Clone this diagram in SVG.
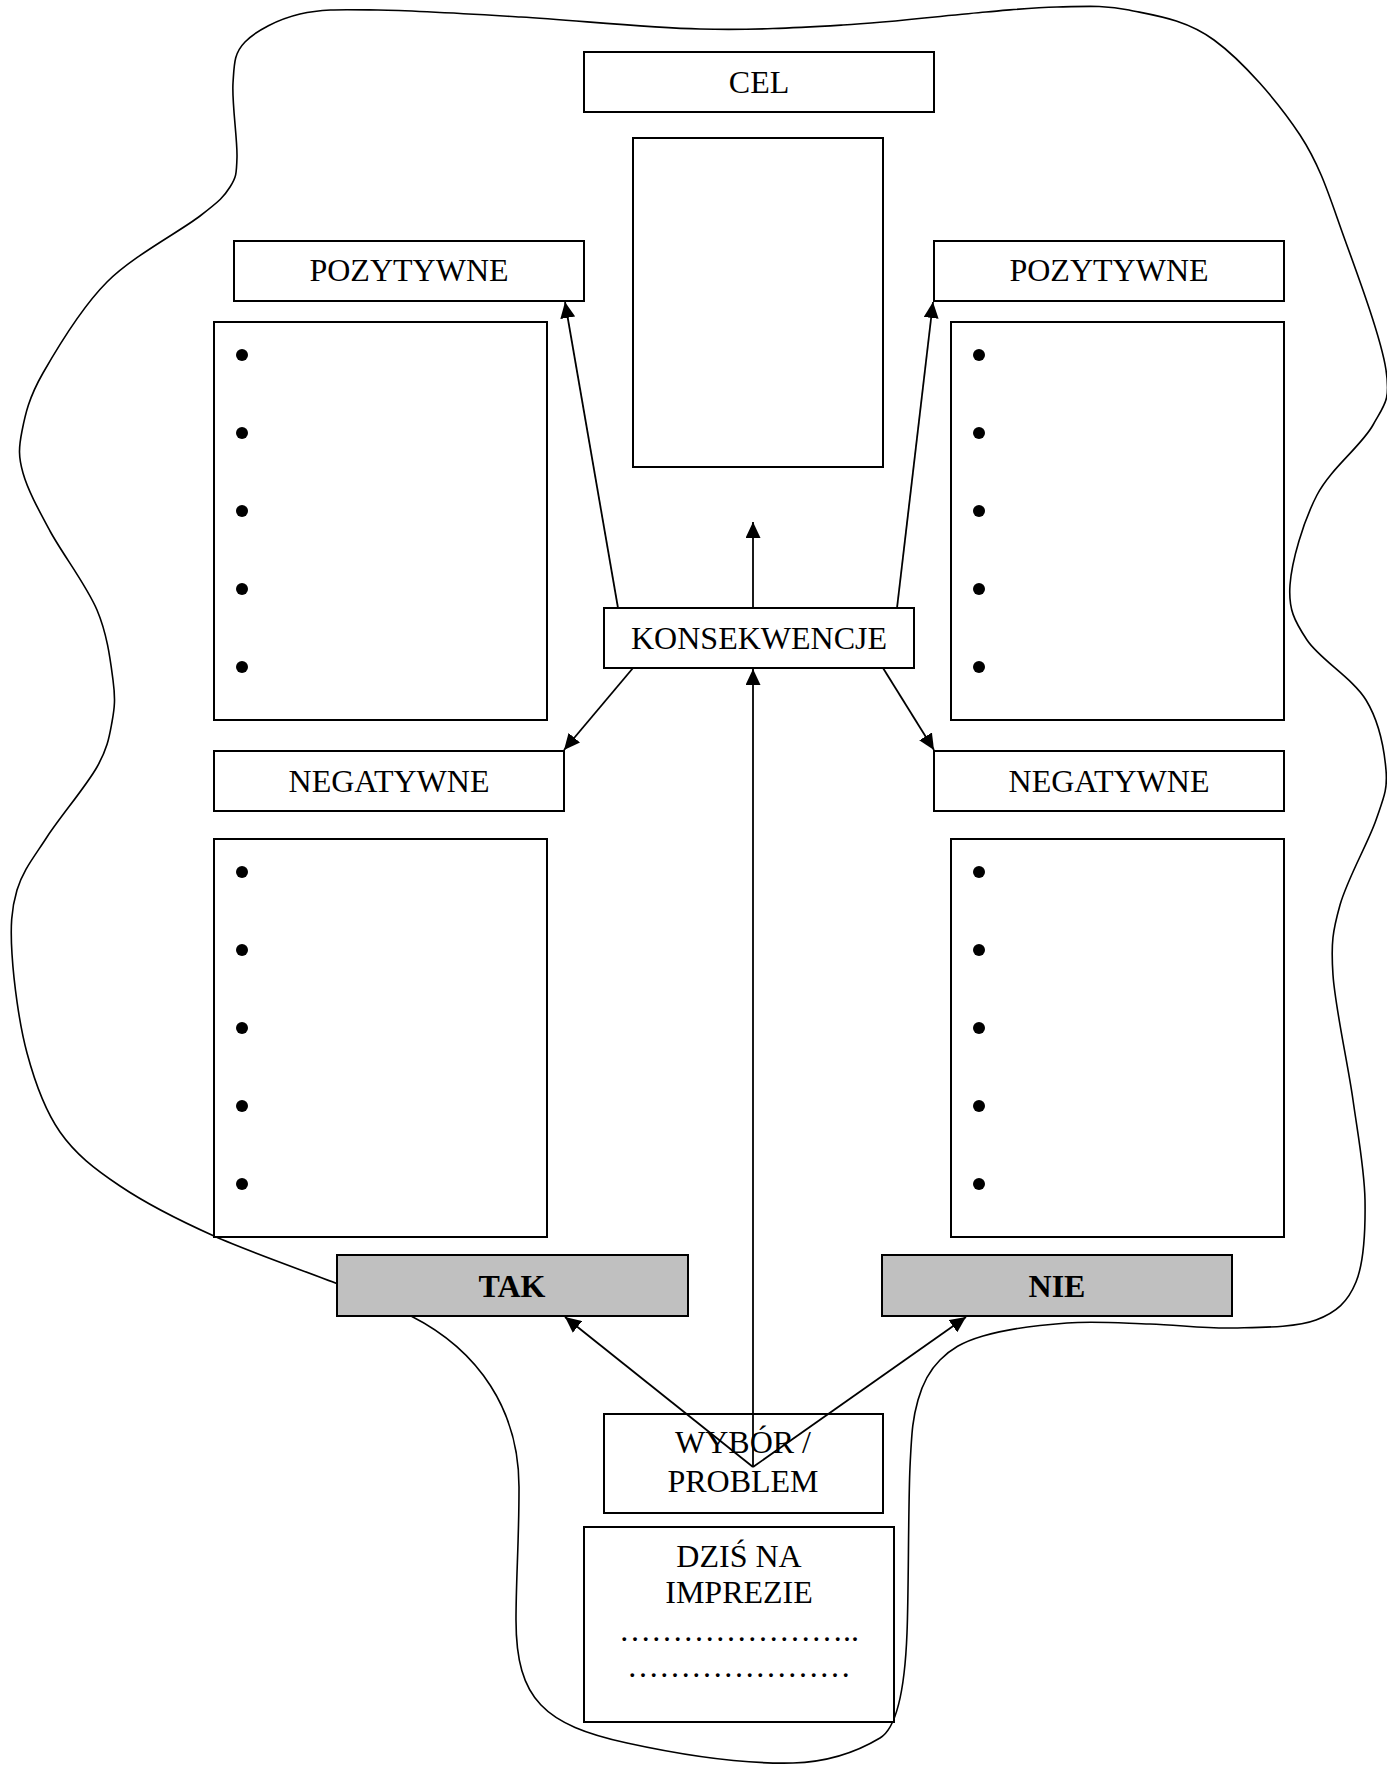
<svg xmlns="http://www.w3.org/2000/svg" width="1387" height="1766" viewBox="0 0 1387 1766">
  <style>
    .box { fill: #ffffff; stroke: #000000; stroke-width: 2; }
    .choice { fill: #c0c0c0; stroke: #000000; stroke-width: 2; }
    .lbl { font-family: "Liberation Serif", "Times New Roman", serif; font-size: 32px; fill: #000000; text-anchor: middle; }
    .bold { font-weight: bold; }
    .blob { fill: none; stroke: #000000; stroke-width: 1.6; }
    .conn { fill: none; stroke: #000000; stroke-width: 1.8; }
    .dot { fill: #000000; }
  </style>
  <defs>
    <marker id="arrow" markerUnits="userSpaceOnUse" markerWidth="16" markerHeight="15" refX="16" refY="7.5" orient="auto">
      <path d="M0,0 L16,7.5 L0,15 Z" fill="#000000"/>
    </marker>
  </defs>

  <rect width="1387" height="1766" fill="#ffffff"/>

  <!-- free-form outline around the whole decision map -->
  <path id="outline" class="blob" d="M378,10
    C414.8,10.5 467.3,13.8 521,17
    C574.7,20.2 646.3,27.7 700,29
    C753.7,30.3 795.3,27.8 843,25
    C890.7,22.2 950.3,15 986,12
    C1021.7,9 1033.2,7.3 1057,7
    C1080.8,6.7 1102.8,4.5 1129,10
    C1155.2,15.5 1185.5,19.2 1214,40
    C1242.5,60.8 1278.2,101.7 1300,135
    C1321.8,168.3 1330.7,200.8 1345,240
    C1359.3,279.2 1381.3,339.2 1386,370
    C1390.7,400.8 1384.5,404.2 1373,425
    C1361.5,445.8 1330.8,468.3 1317,495
    C1303.2,521.7 1291.7,560.8 1290,585
    C1288.3,609.2 1294.3,620.8 1307,640
    C1319.7,659.2 1352.8,678.3 1366,700
    C1379.2,721.7 1384.3,750 1386,770
    C1387.7,790 1383.7,797.5 1376,820
    C1368.3,842.5 1347.2,879.2 1340,905
    C1332.8,930.8 1330.8,942.5 1333,975
    C1335.2,1007.5 1347.7,1062.5 1353,1100
    C1358.3,1137.5 1364.5,1169.7 1365,1200
    C1365.5,1230.3 1364.2,1262 1356,1282
    C1347.8,1302 1336.5,1312.3 1316,1320
    C1295.5,1327.7 1260.7,1327.3 1233,1328
    C1205.3,1328.7 1177.7,1324.8 1150,1324
    C1122.3,1323.2 1094.8,1321 1067,1323
    C1039.2,1325 1004.2,1329.8 983,1336
    C961.8,1342.2 950.8,1349.3 940,1360
    C929.2,1370.7 923,1382.2 918,1400
    C913,1417.8 911.8,1428.2 910,1467
    C908.2,1505.8 908.7,1593.3 907,1633
    C905.5,1672 900,1726 880,1738
    C860,1750 830,1762 793,1763
    C750,1764 700,1759 627,1743
    C545,1725 516,1700 516,1620
    C516,1580 519,1540 519,1490
    C520,1410 478,1350 411,1316
    C380,1300 360,1293 338,1284
    C311.2,1273.3 250.3,1252.3 214,1236
    C177.7,1219.7 145.7,1203.3 120,1186
    C94.3,1168.7 75.5,1154.2 60,1132
    C44.5,1109.8 35,1082.7 27,1053
    C19,1023.3 13.7,981.2 12,954
    C10.3,926.8 11.2,909.5 17,890
    C22.8,870.5 33.7,857.5 47,837
    C60.3,816.5 86.2,786.2 97,767
    C107.8,747.8 109.3,736.5 112,722
    C114.7,707.5 115.5,698.7 113,680
    C110.5,661.3 107.5,634.8 97,610
    C86.5,585.2 62.3,553.8 50,531
    C37.7,508.2 27.7,489.7 23,473
    C18.3,456.3 18.7,447.7 22,431
    C25.3,414.3 28.8,397.8 43,373
    C57.2,348.2 80.8,308.2 107,282
    C133.2,255.8 179.5,231.8 200,216
    C220.5,200.2 223.8,196.8 230,187
    C236.2,177.2 236.5,174.3 237,157
    C237.5,139.7 231.7,102.2 233,83
    C234.3,63.8 233.8,53.5 245,42
    C256.2,30.5 277.8,19.3 300,14
    C322.2,8.7 341.2,9.5 378,10 Z"/>

  <g id="cel">
    <rect class="box" x="584" y="52" width="350" height="60"/>
    <text class="lbl" x="759" y="93">CEL</text>
  </g>

  <g id="cel-field">
    <rect class="box" x="633" y="138" width="250" height="329"/>
  </g>

  <g id="tak-pozytywne">
    <rect class="box" x="234" y="241" width="350" height="60"/>
    <text class="lbl" x="409" y="281">POZYTYWNE</text>
  </g>

  <g id="nie-pozytywne">
    <rect class="box" x="934" y="241" width="350" height="60"/>
    <text class="lbl" x="1109" y="281">POZYTYWNE</text>
  </g>

  <g id="tak-pozytywne-list">
    <rect class="box" x="214" y="322" width="333" height="398"/>
    <circle class="dot" cx="242" cy="355" r="6"/>
    <circle class="dot" cx="242" cy="433" r="6"/>
    <circle class="dot" cx="242" cy="511" r="6"/>
    <circle class="dot" cx="242" cy="589" r="6"/>
    <circle class="dot" cx="242" cy="667" r="6"/>
  </g>

  <g id="nie-pozytywne-list">
    <rect class="box" x="951" y="322" width="333" height="398"/>
    <circle class="dot" cx="979" cy="355" r="6"/>
    <circle class="dot" cx="979" cy="433" r="6"/>
    <circle class="dot" cx="979" cy="511" r="6"/>
    <circle class="dot" cx="979" cy="589" r="6"/>
    <circle class="dot" cx="979" cy="667" r="6"/>
  </g>

  <g id="konsekwencje">
    <rect class="box" x="604" y="608" width="310" height="60"/>
    <text class="lbl" x="759" y="649">KONSEKWENCJE</text>
  </g>

  <g id="tak-negatywne">
    <rect class="box" x="214" y="751" width="350" height="60"/>
    <text class="lbl" x="389" y="792">NEGATYWNE</text>
  </g>

  <g id="nie-negatywne">
    <rect class="box" x="934" y="751" width="350" height="60"/>
    <text class="lbl" x="1109" y="792">NEGATYWNE</text>
  </g>

  <g id="tak-negatywne-list">
    <rect class="box" x="214" y="839" width="333" height="398"/>
    <circle class="dot" cx="242" cy="872" r="6"/>
    <circle class="dot" cx="242" cy="950" r="6"/>
    <circle class="dot" cx="242" cy="1028" r="6"/>
    <circle class="dot" cx="242" cy="1106" r="6"/>
    <circle class="dot" cx="242" cy="1184" r="6"/>
  </g>

  <g id="nie-negatywne-list">
    <rect class="box" x="951" y="839" width="333" height="398"/>
    <circle class="dot" cx="979" cy="872" r="6"/>
    <circle class="dot" cx="979" cy="950" r="6"/>
    <circle class="dot" cx="979" cy="1028" r="6"/>
    <circle class="dot" cx="979" cy="1106" r="6"/>
    <circle class="dot" cx="979" cy="1184" r="6"/>
  </g>

  <g id="tak">
    <rect class="choice" x="337" y="1255" width="351" height="61"/>
    <text class="lbl bold" x="512" y="1297">TAK</text>
  </g>

  <g id="nie">
    <rect class="choice" x="882" y="1255" width="350" height="61"/>
    <text class="lbl bold" x="1057" y="1297">NIE</text>
  </g>

  <g id="wybor">
    <rect class="box" x="604" y="1414" width="279" height="99"/>
    <text class="lbl" x="743" y="1453">WYBÓR /</text>
    <text class="lbl" x="743" y="1492">PROBLEM</text>
  </g>

  <g id="dzis">
    <rect class="box" x="584" y="1527" width="310" height="195"/>
    <text class="lbl" x="739" y="1567">DZIŚ NA</text>
    <text class="lbl" x="739" y="1603">IMPREZIE</text>
    <text class="lbl" x="739" y="1641">&#8230;&#8230;&#8230;&#8230;&#8230;&#8230;&#8230;..</text>
    <text class="lbl" x="739" y="1677">&#8230;&#8230;&#8230;&#8230;&#8230;&#8230;&#8230;</text>
  </g>

  <g id="connectors">
    <line class="conn" x1="618" y1="608" x2="565" y2="302" marker-end="url(#arrow)"/>
    <line class="conn" x1="897" y1="608" x2="933" y2="302" marker-end="url(#arrow)"/>
    <line class="conn" x1="753" y1="608" x2="753" y2="522" marker-end="url(#arrow)"/>
    <line class="conn" x1="633" y1="668" x2="564" y2="750" marker-end="url(#arrow)"/>
    <line class="conn" x1="883" y1="668" x2="934" y2="750" marker-end="url(#arrow)"/>
    <line class="conn" x1="753" y1="1467" x2="753" y2="669" marker-end="url(#arrow)"/>
    <line class="conn" x1="753" y1="1467" x2="565" y2="1317" marker-end="url(#arrow)"/>
    <line class="conn" x1="753" y1="1467" x2="966" y2="1317" marker-end="url(#arrow)"/>
  </g>
</svg>
